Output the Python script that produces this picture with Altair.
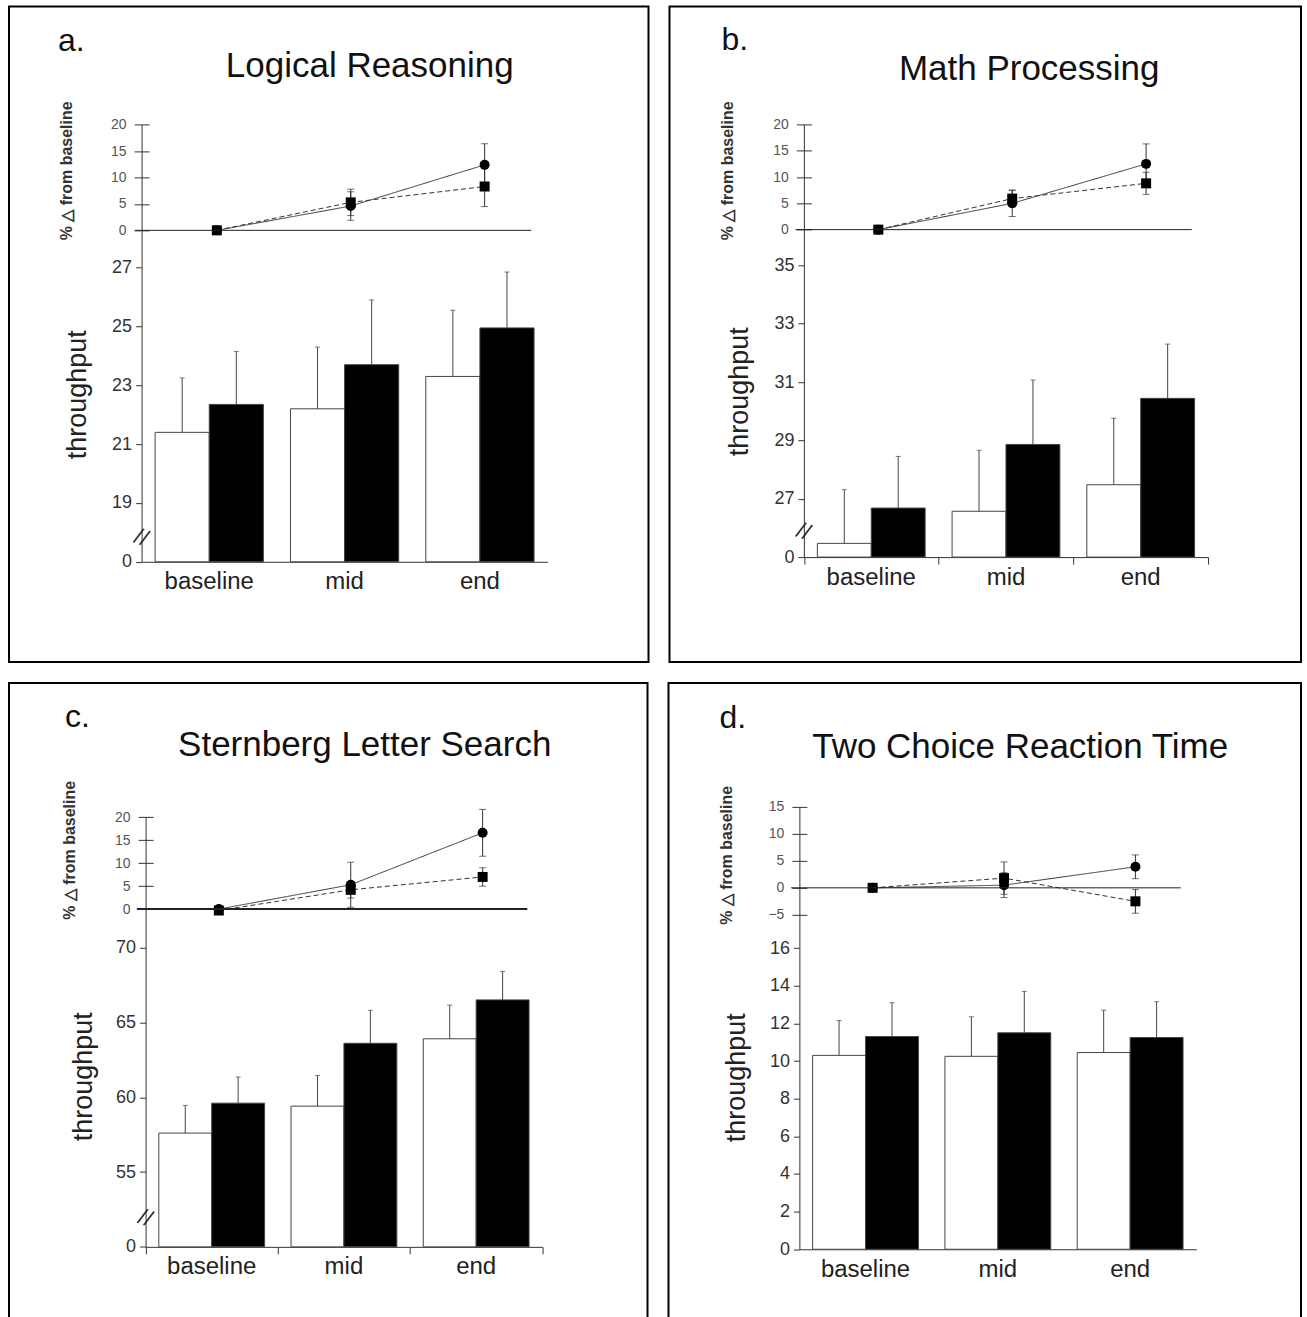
import altair as alt
import pandas as pd

FONT = "Liberation Sans"

categories = ["baseline", "mid", "end"]
bar_groups = ["open", "filled"]
line_series = ["circle", "square"]
t_index = [0, 1, 2]

letters = ["a.", "b.", "c.", "d."]
titles = ["Logical Reasoning", "Math Processing", "Sternberg Letter Search", "Two Choice Reaction Time"]

# ---- panel a: Logical Reasoning
a_open = [21.4, 22.2, 23.3]
a_open_err = [1.85, 2.1, 2.25]
a_fill = [22.35, 23.7, 24.95]
a_fill_err = [1.8, 2.2, 1.9]
a_circ = [0.0, 4.6, 12.4]
a_circ_err = [0.0, 2.7, 4.0]
a_sq = [0.0, 5.3, 8.3]
a_sq_err = [0.0, 2.5, 3.8]

# ---- panel b: Math Processing
b_open = [25.47, 26.57, 27.48]
b_open_err = [1.84, 2.09, 2.28]
b_fill = [26.68, 28.86, 30.44]
b_fill_err = [1.77, 2.21, 1.86]
b_circ = [0.0, 5.0, 12.5]
b_circ_err = [0.0, 2.5, 3.8]
b_sq = [0.0, 5.9, 8.8]
b_sq_err = [0.0, 1.6, 2.1]

# ---- panel c: Sternberg Letter Search
c_open = [57.6, 59.4, 63.9]
c_open_err = [1.85, 2.05, 2.25]
c_fill = [59.6, 63.6, 66.5]
c_fill_err = [1.75, 2.2, 1.9]
c_circ = [0.0, 5.3, 16.6]
c_circ_err = [0.0, 4.9, 5.1]
c_sq = [-0.3, 4.2, 7.0]
c_sq_err = [0.0, 1.8, 2.0]

# ---- panel d: Two Choice Reaction Time
d_open = [10.3, 10.25, 10.45]
d_open_err = [1.85, 2.1, 2.25]
d_fill = [11.3, 11.5, 11.25]
d_fill_err = [1.8, 2.2, 1.9]
d_circ = [0.0, 0.5, 3.9]
d_circ_err = [0.0, 2.3, 2.2]
d_sq = [0.0, 1.8, -2.5]
d_sq_err = [0.0, 3.0, 2.2]

# axis tick values / broken-axis floors
a_bar_ticks = [17, 19, 21, 23, 25, 27]
b_bar_ticks = [25, 27, 29, 31, 33, 35]
c_bar_ticks = [50, 55, 60, 65, 70]
d_bar_ticks = [0, 2, 4, 6, 8, 10, 12, 14, 16]
abc_line_ticks = [0, 5, 10, 15, 20]
d_line_ticks = [-5, 0, 5, 10, 15]
group_boundaries = [0, 1, 2, 3]   # boundaries between category groups (in group steps)

# ---- layout (pixels relative to each panel box)
LAYOUT = {
    "a": dict(W=640, H=656, ax=132.7, ltop=118.3, ltop_val=20, zero=224.0, btop=261.3, bfloor=555.7,
              p0=208, step=134, zx0=126, zx1=522.7, bx1=539, brk=17.84, xticks=False, zw=1,
              lt=(49, 45), tt=(361, 71), ltitle=(-82.2, 164), btitle=(-64.2, 388)),
    "b": dict(W=632, H=656, ax=134.5, ltop=118.0, ltop_val=20, zero=223.3, btop=259.0, bfloor=551.0,
              p0=209, step=134, zx0=126, zx1=522.7, bx1=539, brk=25.89, xticks=True, zw=1,
              lt=(52, 44), tt=(360, 74), ltitle=(-84, 164), btitle=(-64.5, 385)),
    "c": dict(W=639, H=650, ax=136.7, ltop=134.3, ltop_val=20, zero=226.3, btop=264.7, bfloor=564.3,
              p0=210, step=132, zx0=128, zx1=518.7, bx1=533.7, brk=51.95, xticks=True, zw=2,
              lt=(56, 44), tt=(356, 73), ltitle=(-83.2, 167), btitle=(-62.4, 393.5)),
    "d": dict(W=633, H=650, ax=131.0, ltop=124.0, ltop_val=15, zero=205.0, btop=265.3, bfloor=566.7,
              p0=204.3, step=131.5, zx0=122.7, zx1=512.7, bx1=528.2, brk=None, xticks=False, zw=1,
              lt=(51, 45), tt=(352, 75), ltitle=(-80.5, 172), btitle=(-63.3, 394.5)),
}

AX_COL = "#333333"


def make_panel(letter, title, bo, bo_e, bf, bf_e, ci, ci_e, sq, sq_e, bar_ticks, line_ticks, L):
    W, H, ax = L["W"], L["H"], L["ax"]
    floor = bar_ticks[0]

    # ---------------- bars
    bdf = pd.DataFrame({
        "cat": categories + categories,
        "grp": [bar_groups[0]] * 3 + [bar_groups[1]] * 3,
        "v": bo + bf,
        "top": [v + e for v, e in zip(bo, bo_e)] + [v + e for v, e in zip(bf, bf_e)],
    })
    bx_scale = alt.Scale(domain=categories, range=[ax, L["bx1"]], paddingInner=0.2, paddingOuter=0.1)
    bx_axis = alt.Axis(orient="bottom", offset=-(H - L["bfloor"]), labelFontSize=24, labelColor="#222222",
                       labelAngle=0, domainColor=AX_COL, grid=False, title=None, labelFont=FONT,
                       ticks=False, labelPadding=8)

    def bx():
        return alt.X("cat:N", sort=categories, scale=bx_scale, axis=bx_axis)

    def bxo():
        return alt.XOffset("grp:N", sort=bar_groups, scale=alt.Scale(domain=bar_groups))

    by_scale = alt.Scale(domain=[floor, bar_ticks[-1]], range=[L["bfloor"], L["btop"]], nice=False, zero=False)
    by_axis = alt.Axis(orient="left", offset=-ax, values=bar_ticks,
                       labelExpr=f"datum.value == {floor} ? '0' : datum.label",
                       labelFontSize=18, labelColor=AX_COL, labelPadding=4, labelFont=FONT,
                       tickSize=6, tickColor=AX_COL, domainColor=AX_COL, grid=False,
                       title="throughput", titleFontSize=27, titleFontWeight="normal", titleColor="#222222",
                       titleFont=FONT, titleX=L["btitle"][0], titleY=L["btitle"][1], titleAngle=270,
                       titleAlign="center", titleBaseline="middle")

    def by(field):
        return alt.Y(f"{field}:Q", scale=by_scale, axis=by_axis)

    bars = alt.Chart(bdf).mark_bar(stroke="#444444", strokeWidth=1).encode(
        x=bx(), xOffset=bxo(), y=by("v"), y2=alt.datum(floor),
        color=alt.Color("grp:N", scale=alt.Scale(domain=bar_groups, range=["white", "black"]), legend=None),
    )
    berr = alt.Chart(bdf).mark_rule(color="#444444", strokeWidth=1).encode(
        x=bx(), xOffset=bxo(), y=by("v"), y2="top:Q")
    bcap = alt.Chart(bdf).mark_tick(orient="horizontal", size=5, thickness=1, color="#444444").encode(
        x=bx(), xOffset=bxo(), y=by("top"))
    bar_layers = [bars, berr, bcap]
    if L["brk"] is not None:
        brk = alt.Chart(pd.DataFrame({"top": [L["brk"]], "s": ["//"]})).mark_text(
            fontSize=20, angle=20, font="DejaVu Sans", color="#222222").encode(
            x=alt.value(ax), y=by("top"), text="s:N")
        bar_layers.append(brk)
    bar_group = alt.layer(*bar_layers)

    # ---------------- line (% change) chart
    ppu = (L["zero"] - L["ltop"]) / L["ltop_val"]
    lo = -(L["btop"] - L["zero"]) / ppu
    ydom = [lo, L["ltop_val"]]
    yrng = [L["btop"], L["ltop"]]
    xlo = (L["zx0"] - L["p0"]) / L["step"]
    xhi = (L["zx1"] - L["p0"]) / L["step"]
    xdom = [xlo, xhi]
    xrng = [L["zx0"], L["zx1"]]

    ldf = pd.DataFrame({
        "cat": categories + categories,
        "t": t_index + t_index,
        "ser": [line_series[0]] * 3 + [line_series[1]] * 3,
        "v": ci + sq,
        "e": ci_e + sq_e,
    })
    ldf["lo"] = ldf["v"] - ldf["e"]
    ldf["hi"] = ldf["v"] + ldf["e"]
    edf = ldf[ldf["e"] > 0]
    cdf = pd.DataFrame({"t": list(edf["t"]) * 2, "c": list(edf["lo"]) + list(edf["hi"])})

    ly_axis = alt.Axis(orient="left", offset=-(ax + 7.5), domain=False, tickSize=15, tickColor=AX_COL,
                       values=line_ticks, labelFontSize=14, labelColor="#555555", labelPadding=8,
                       labelFont=FONT, grid=False,
                       title="% \u25b3 from baseline", titleFontSize=16, titleFontWeight="bold",
                       titleColor="#333333", titleFont=FONT, titleX=L["ltitle"][0], titleY=L["ltitle"][1],
                       titleAngle=270, titleAlign="center", titleBaseline="middle")
    lx_scale = alt.Scale(domain=xdom, range=xrng, nice=False, zero=False)
    ly_scale = alt.Scale(domain=ydom, range=yrng, nice=False, zero=False)

    def lx(field):
        return alt.X(f"{field}:Q", scale=lx_scale, axis=None)

    def ly(field):
        return alt.Y(f"{field}:Q", scale=ly_scale, axis=ly_axis)

    lines = alt.Chart(ldf).mark_line(color="#333333", strokeWidth=1).encode(
        x=lx("t"), y=ly("v"),
        strokeDash=alt.StrokeDash("ser:N", sort=line_series,
                                  scale=alt.Scale(domain=line_series, range=[[1, 0], [5, 3]]), legend=None),
    )
    lerr = alt.Chart(edf).mark_rule(color="#333333", strokeWidth=1).encode(
        x=lx("t"), y=ly("lo"), y2="hi:Q")
    lcap = alt.Chart(cdf).mark_tick(orient="horizontal", size=7, thickness=1, color="#333333").encode(
        x=lx("t"), y=ly("c"))
    pts = alt.Chart(ldf).mark_point(filled=True, opacity=1, size=100, color="black").encode(
        x=lx("t"), y=ly("v"),
        shape=alt.Shape("ser:N", sort=line_series,
                        scale=alt.Scale(domain=line_series, range=["circle", "square"]), legend=None),
    )
    line_group = alt.layer(lines, lerr, lcap, pts)

    # zero line + vertical axis line of the % chart
    zdf = pd.DataFrame({"x0": [xlo], "x1": [xhi], "y": [0]})
    zero_rule = alt.Chart(zdf).mark_rule(color="#222222", strokeWidth=L["zw"]).encode(
        x=alt.X("x0:Q", scale=alt.Scale(domain=xdom, range=xrng, nice=False, zero=False), axis=None),
        x2="x1:Q",
        y=alt.Y("y:Q", scale=alt.Scale(domain=ydom, range=yrng, nice=False, zero=False),
                axis=alt.Axis(orient="left", offset=-ax, ticks=False, labels=False, domain=True,
                              domainColor=AX_COL, grid=False, title=None)),
    )

    layers = [bar_group, line_group, zero_rule]

    # ticks between category groups on the bar x-axis (panels b, c)
    if L["xticks"]:
        kdf = pd.DataFrame({"k": group_boundaries})
        ktick = alt.Chart(kdf).mark_point(opacity=0, size=1).encode(
            x=alt.X("k:Q", scale=alt.Scale(domain=[group_boundaries[0], group_boundaries[-1]],
                                           range=[ax, L["bx1"]], nice=False, zero=False),
                    axis=alt.Axis(orient="bottom", offset=-(H - L["bfloor"]), values=group_boundaries,
                                  labels=False, domain=False, ticks=True, tickSize=7, tickColor=AX_COL,
                                  grid=False, title=None)),
            y=alt.value(L["bfloor"]),
        )
        layers.append(ktick)

    # panel letter and title
    t_letter = alt.Chart(pd.DataFrame({"s": [letter]})).mark_text(
        fontSize=32, align="left", baseline="alphabetic", font=FONT, color="#111111").encode(
        text="s:N", x=alt.value(L["lt"][0]), y=alt.value(L["lt"][1]))
    t_title = alt.Chart(pd.DataFrame({"s": [title]})).mark_text(
        fontSize=35, align="center", baseline="alphabetic", font=FONT, color="#111111").encode(
        text="s:N", x=alt.value(L["tt"][0]), y=alt.value(L["tt"][1]))
    layers += [t_letter, t_title]

    return alt.layer(*layers).resolve_scale(
        x="independent", y="independent").properties(width=W, height=H)


pa = make_panel(letters[0], titles[0], a_open, a_open_err, a_fill, a_fill_err,
                a_circ, a_circ_err, a_sq, a_sq_err, a_bar_ticks, abc_line_ticks, LAYOUT["a"])
pb = make_panel(letters[1], titles[1], b_open, b_open_err, b_fill, b_fill_err,
                b_circ, b_circ_err, b_sq, b_sq_err, b_bar_ticks, abc_line_ticks, LAYOUT["b"])
pc = make_panel(letters[2], titles[2], c_open, c_open_err, c_fill, c_fill_err,
                c_circ, c_circ_err, c_sq, c_sq_err, c_bar_ticks, abc_line_ticks, LAYOUT["c"])
pd_ = make_panel(letters[3], titles[3], d_open, d_open_err, d_fill, d_fill_err,
                 d_circ, d_circ_err, d_sq, d_sq_err, d_bar_ticks, d_line_ticks, LAYOUT["d"])

res = dict(x="independent", y="independent", xOffset="independent")
top = alt.hconcat(pa, pb, spacing=19).resolve_scale(**res)
bottom = alt.hconcat(pc, pd_, spacing=19).resolve_scale(**res)
chart = alt.vconcat(top, bottom, spacing=19).resolve_scale(**res).properties(
    padding={"left": 8, "top": 5, "right": 5, "bottom": 5}, background="white"
).configure(font=FONT).configure_view(stroke="black", strokeWidth=2)

chart.save("out.html", embed_options={"renderer": "svg", "actions": False})
